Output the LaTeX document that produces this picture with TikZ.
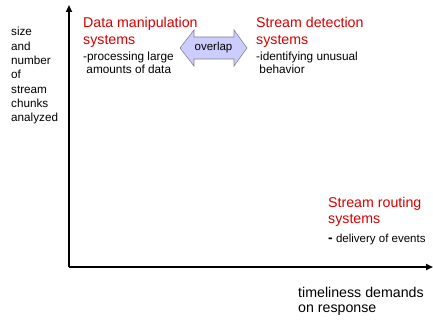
\documentclass[tikz,border=0pt]{standalone}
\usepackage{fontspec}
\setmainfont{Liberation Sans}
\usetikzlibrary{arrows.meta}
\definecolor{hdred}{RGB}{214,0,0}
\definecolor{ovfill}{RGB}{204,204,255}
\definecolor{ovdraw}{RGB}{130,130,150}
\tikzset{
  axis/.style={line width=2pt,-{Triangle[length=7pt,width=6pt]}},
  head/.style={anchor=base west,inner sep=0pt,text=hdred,font=\fontsize{14.2}{16}\selectfont},
  desc/.style={anchor=base west,inner sep=0pt,font=\fontsize{11.8}{14}\selectfont},
  ylab/.style={anchor=base west,inner sep=0pt,font=\fontsize{11.7}{14}\selectfont},
  xlab/.style={anchor=base west,inner sep=0pt,font=\fontsize{14.2}{16}\selectfont},
}
\begin{document}
\begin{tikzpicture}[x=1pt,y=-1pt]
\useasboundingbox (0,0) rectangle (433,321);
% axes
\coordinate (origin) at (69,267);
\coordinate (ytip) at (69,5);
\coordinate (xtip) at (433,267);
\draw[axis] (origin) -- (ytip);
\draw[axis] (origin) -- (xtip);
% y label
\node[ylab] (y1) at (11,36) {size};
\node[ylab] (y2) at (11,50.3) {and};
\node[ylab] (y3) at (11,64.6) {number};
\node[ylab] (y4) at (11,78.9) {of};
\node[ylab] (y5) at (11,93.2) {stream};
\node[ylab] (y6) at (11,107.5) {chunks};
\node[ylab] (y7) at (11,121.8) {analyzed};
% data manipulation
\node[head] (dm1) at (83,28) {Data manipulation};
\node[head] (dm2) at (83,45) {systems};
\node[desc] (dm3) at (83,60) {-processing large};
\node[desc] (dm4) at (83,74) {\ amounts of data};
% stream detection
\node[head] (sd1) at (256,28) {Stream detection};
\node[head] (sd2) at (256,45) {systems};
\node[desc] (sd3) at (256,60) {-identifying unusual};
\node[desc] (sd4) at (256,74) {\ behavior};
% stream routing
\node[head] (sr1) at (328,207) {Stream routing};
\node[head] (sr2) at (328,223) {systems};
\node[desc,font=\fontsize{11.5}{13}\selectfont] (sr3) at (328,242) {{\fontsize{14}{14}\selectfont\bfseries -} delivery of events};
% x label
\node[xlab] (x1) at (298,297) {timeliness demands};
\node[xlab] (x2) at (298,312) {on response};
% overlap double arrow
\draw[fill=ovfill,draw=ovdraw,line width=0.6pt]
  (180,48) -- (194,30) -- (194,37) -- (234,37) -- (234,30) -- (247,48)
  -- (234,66) -- (234,59) -- (194,59) -- (194,66) -- cycle;
\node[inner sep=0pt,font=\fontsize{11.5}{13}\selectfont] (ov) at (213.5,48) {overlap};
\end{tikzpicture}
\end{document}
